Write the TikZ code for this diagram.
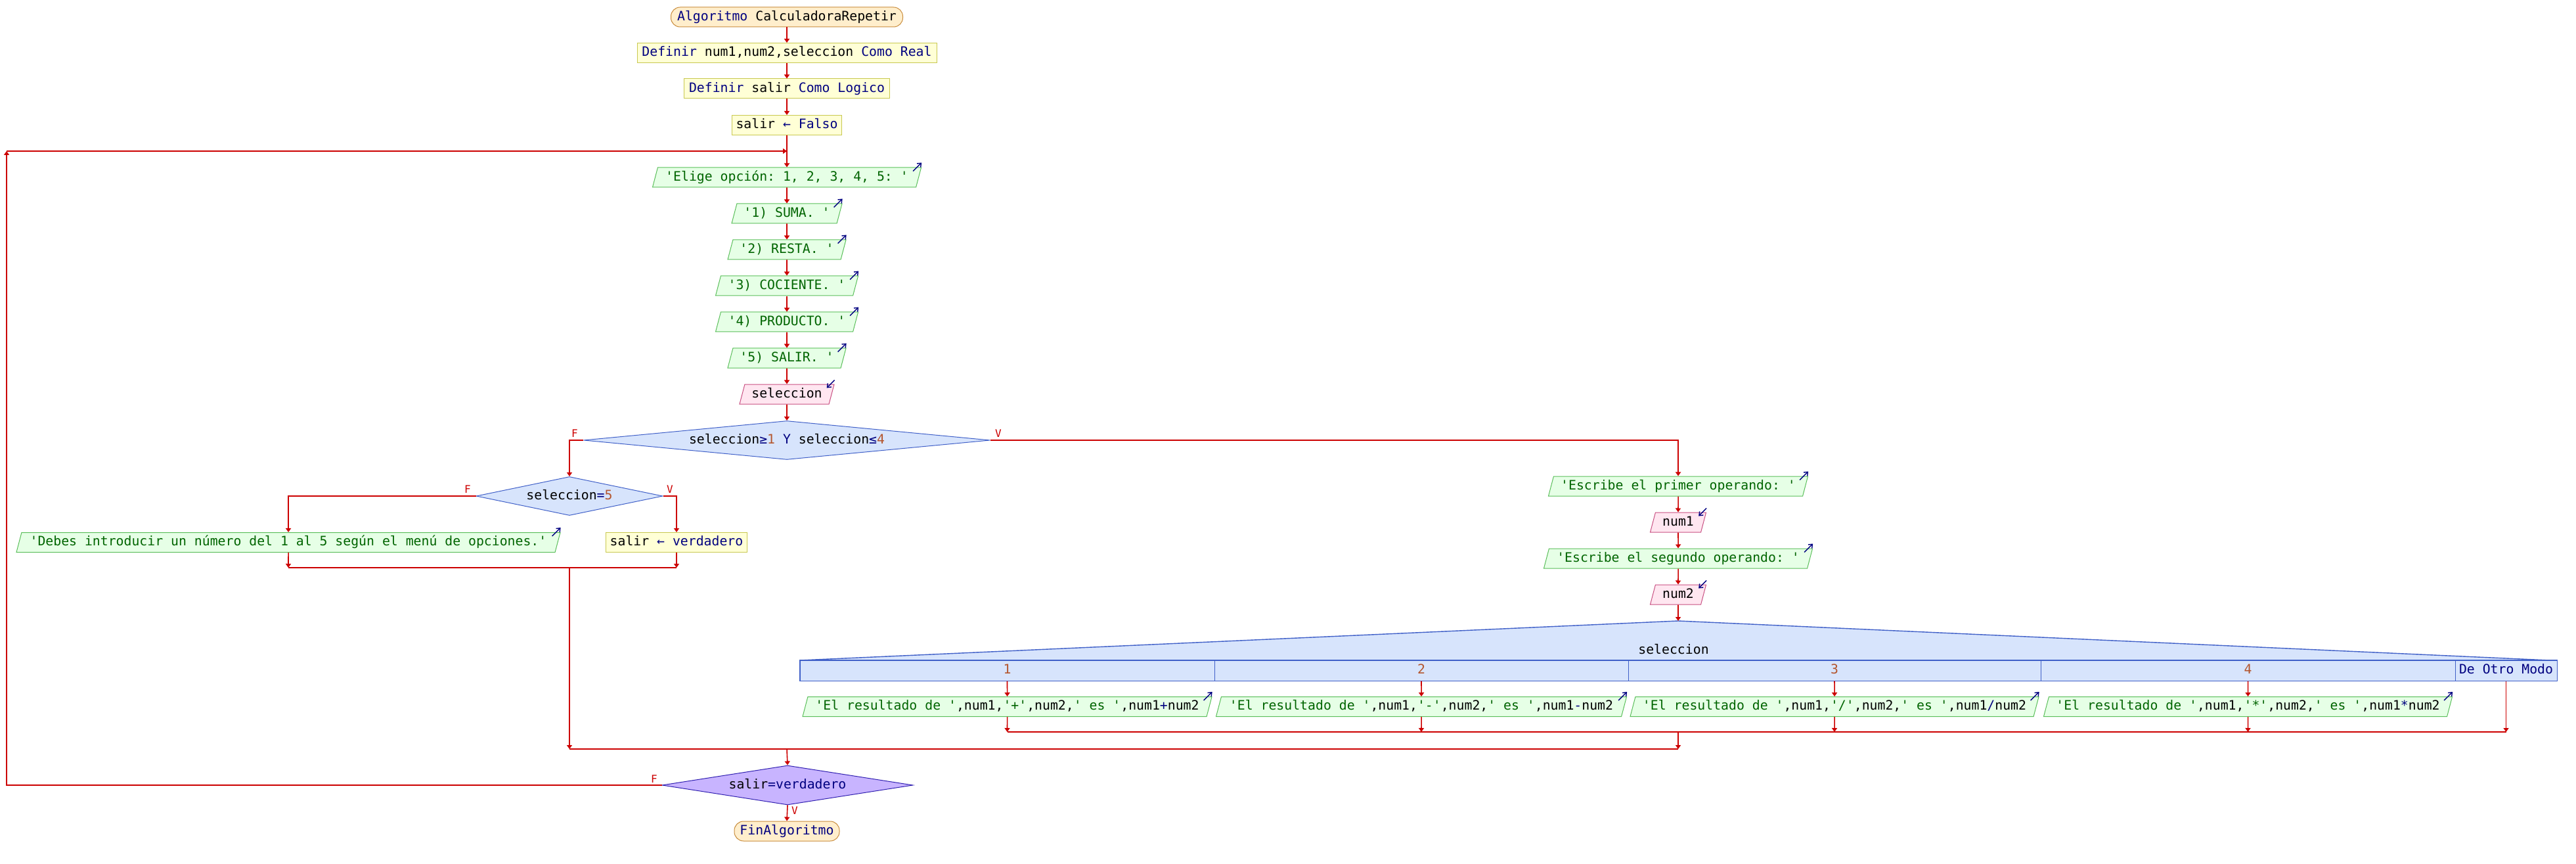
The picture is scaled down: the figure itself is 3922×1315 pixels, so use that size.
\documentclass[tikz,border=0pt]{standalone}
\usepackage{fontspec}
\setmonofont{DejaVu Sans Mono}
\usetikzlibrary{shapes.geometric,arrows.meta}
\definecolor{flowred}{RGB}{204,0,0}
\definecolor{kwblue}{RGB}{0,0,128}
\definecolor{strgreen}{RGB}{0,100,0}
\definecolor{numbrown}{RGB}{180,85,45}
\definecolor{termfill}{RGB}{255,238,204}
\definecolor{termdraw}{RGB}{200,140,60}
\definecolor{procfill}{RGB}{255,255,214}
\definecolor{procdraw}{RGB}{200,200,80}
\definecolor{outfill}{RGB}{230,255,230}
\definecolor{outdraw}{RGB}{90,190,90}
\definecolor{infill}{RGB}{255,230,240}
\definecolor{indraw}{RGB}{200,80,130}
\definecolor{decfill}{RGB}{215,228,252}
\definecolor{decdraw}{RGB}{64,96,200}
\definecolor{loopfill}{RGB}{200,180,255}
\definecolor{loopdraw}{RGB}{48,32,176}
\newcommand\kwd[1]{\textcolor{kwblue}{#1}}
\newcommand\cstr[1]{\textcolor{strgreen}{#1}}
\newcommand\nm[1]{\textcolor{numbrown}{#1}}
\newcommand\outicon[1]{\draw[icon] ([shift={(-13,6)}]#1.top right corner) -- ([shift={(0,-7)}]#1.top right corner);}
\newcommand\inicon[1]{\draw[icon] ([shift={(0,-6)}]#1.top right corner) -- ([shift={(-12,6)}]#1.top right corner);}
\tikzset{
  bw/.style={minimum width=#1*0.5pt},
  bh/.style={minimum height=#1*0.5pt},
  nbase/.style={inner sep=0pt, line width=0.5pt, text height=7.5pt, text depth=2.3pt},
  termbox/.style={nbase, draw=termdraw, fill=termfill, rounded corners=7pt, bh=30},
  procbox/.style={nbase, draw=procdraw, fill=procfill, bh=30},
  outbox/.style={nbase, trapezium, trapezium left angle=68, trapezium right angle=112,
    trapezium stretches body, draw=outdraw, fill=outfill, bh=30},
  inbox/.style={outbox, draw=indraw, fill=infill},
  decbox/.style={nbase, diamond, draw=decdraw, fill=decfill},
  segcell/.style={nbase, draw=decdraw, fill=decfill, bh=31},
  flow/.style={draw=flowred, line width=0.8pt, -{Triangle[width=4pt,length=3pt]}},
  jline/.style={draw=flowred, line width=0.9pt},
  lbl/.style={text=flowred, font=\ttfamily\fontsize{8pt}{9pt}\selectfont, inner sep=0pt},
  icon/.style={draw=kwblue, line width=0.7pt, -{Straight Barb[length=2.5pt,width=4pt]}}
}
\begin{document}
\begin{tikzpicture}[x=0.5pt,y=-0.5pt,font=\ttfamily\fontsize{9.9pt}{12pt}\selectfont]
\useasboundingbox (0,0) rectangle (3922,1315);

% main column
\node[termbox, bw=353] (start) at (1198,26) {\kwd{Algoritmo} CalculadoraRepetir};
\node[procbox, bw=456] (def1) at (1198,80.5) {\kwd{Definir} num1,num2,seleccion \kwd{Como Real}};
\node[procbox, bw=313] (def2) at (1198,135) {\kwd{Definir} salir \kwd{Como Logico}};
\node[procbox, bw=167] (asg1) at (1198,190.5) {salir \kwd{←} \kwd{Falso}};
\node[outbox, bw=409] (o1) at (1198,270) {\cstr{'Elige opción: 1, 2, 3, 4, 5: '}};
\node[outbox, bw=168] (o2) at (1198,325) {\cstr{'1) SUMA. '}};
\node[outbox, bw=180] (o3) at (1198,380) {\cstr{'2) RESTA. '}};
\node[outbox, bw=217] (o4) at (1198,435) {\cstr{'3) COCIENTE. '}};
\node[outbox, bw=217] (o5) at (1198,490) {\cstr{'4) PRODUCTO. '}};
\node[outbox, bw=180] (o6) at (1198,545) {\cstr{'5) SALIR. '}};
\node[inbox, bw=144] (in1) at (1198,600) {seleccion};
\node[decbox, aspect=10, bw=619, bh=59] (d1) at (1198,670) {seleccion\kwd{≥}\nm{1} \kwd{Y} seleccion\kwd{≤}\nm{4}};

% left branch
\node[decbox, aspect=4.8, bw=284, bh=59] (d2) at (867,755) {seleccion\kwd{=}\nm{5}};
\node[outbox, bw=828] (debes) at (439,825.5) {\cstr{'Debes introducir un número del 1 al 5 según el menú de opciones.'}};
\node[procbox, bw=215] (asg2) at (1030,825.5) {salir \kwd{←} \kwd{verdadero}};

% right branch
\node[outbox, bw=395] (e1) at (2555,740) {\cstr{'Escribe el primer operando: '}};
\node[inbox, bw=85] (n1) at (2555,795) {num1};
\node[outbox, bw=409] (e2) at (2555,850) {\cstr{'Escribe el segundo operando: '}};
\node[inbox, bw=85] (n2) at (2555,905) {num2};

% segun
\coordinate (segtop) at (2555,945);
\filldraw[fill=decfill, draw=decdraw, line width=0.7pt] (1218,1005) -- (segtop) -- (3882,1005) -- cycle;
\node[inner sep=0pt, text height=7.5pt, text depth=2.3pt] (segl) at (2548,990) {seleccion};
\node[segcell, bw=631] (c1) at (1533.5,1020.5) {\nm{1}};
\node[segcell, bw=630] (c2) at (2164,1020.5) {\nm{2}};
\node[segcell, bw=628] (c3) at (2793,1020.5) {\nm{3}};
\node[segcell, bw=631] (c4) at (3422.5,1020.5) {\nm{4}};
\node[segcell, bw=155] (c5) at (3815.5,1020.5) {\kwd{De Otro Modo}};
\draw[decdraw, line width=0.8pt] (c1.north west) rectangle (c5.south east);
\node[outbox, bw=623] (r1) at (1533.5,1075.5) {\cstr{'El resultado de '},num1,\cstr{'+'},num2,\cstr{' es '},num1\kwd{+}num2};
\node[outbox, bw=625] (r2) at (2164,1075.5) {\cstr{'El resultado de '},num1,\cstr{'-'},num2,\cstr{' es '},num1\kwd{-}num2};
\node[outbox, bw=622] (r3) at (2793,1075.5) {\cstr{'El resultado de '},num1,\cstr{'/'},num2,\cstr{' es '},num1\kwd{/}num2};
\node[outbox, bw=622] (r4) at (3422.5,1075.5) {\cstr{'El resultado de '},num1,\cstr{'*'},num2,\cstr{' es '},num1\kwd{*}num2};

% end
\node[decbox, aspect=6.4, bw=382, bh=60, fill=loopfill, draw=loopdraw] (d3) at (1199,1195) {salir\kwd{=}\kwd{verdadero}};
\node[termbox, bw=160] (fin) at (1198,1265) {\kwd{FinAlgoritmo}};

% icons
\outicon{o1}\outicon{o2}\outicon{o3}\outicon{o4}\outicon{o5}\outicon{o6}
\outicon{debes}\outicon{e1}\outicon{e2}
\outicon{r1}\outicon{r2}\outicon{r3}\outicon{r4}
\inicon{in1}\inicon{n1}\inicon{n2}

% coordinates
\coordinate (loopB) at (10,1195);
\coordinate (loopT) at (10,230);
\coordinate (loopR) at (1198,230);
\coordinate (j2L) at (439,864);
\coordinate (j2R) at (1030,864);
\coordinate (j2M) at (867,864);
\coordinate (j3a) at (1533.5,1114);
\coordinate (j3b) at (2164,1114);
\coordinate (j3c) at (2793,1114);
\coordinate (j3d) at (3422.5,1114);
\coordinate (j3e) at (3815.5,1114);
\coordinate (j3M) at (2555,1114);
\coordinate (mjL) at (867,1140);
\coordinate (mjR) at (2555,1140);
\coordinate (mjM) at (1198,1140);

% connectors main
\draw[flow] (start) -- (def1);
\draw[flow] (def1) -- (def2);
\draw[flow] (def2) -- (asg1);
\draw[flow] (asg1) -- (o1.north);
\draw[flow] (o1.south) -- (o2.north);
\draw[flow] (o2.south) -- (o3.north);
\draw[flow] (o3.south) -- (o4.north);
\draw[flow] (o4.south) -- (o5.north);
\draw[flow] (o5.south) -- (o6.north);
\draw[flow] (o6.south) -- (in1.north);
\draw[flow] (in1.south) -- (d1.north);

% branches
\draw[flow] (d1.west) -| (d2.north);
\draw[flow] (d1.east) -| (e1.north);
\draw[flow] (d2.west) -| (debes.north);
\draw[flow] (d2.east) -| (asg2.north);
\draw[flow] (debes.south) -- (j2L);
\draw[flow] (asg2.south) -- (j2R);
\draw[jline] (j2L) -- (j2R);
\draw[flow] (j2M) -- (mjL);

\draw[flow] (e1.south) -- (n1.north);
\draw[flow] (n1.south) -- (e2.north);
\draw[flow] (e2.south) -- (n2.north);
\draw[flow] (n2.south) -- (segtop);

\draw[flow] (c1.south) -- (r1.north);
\draw[flow] (c2.south) -- (r2.north);
\draw[flow] (c3.south) -- (r3.north);
\draw[flow] (c4.south) -- (r4.north);
\draw[flow] (r1.south) -- (j3a);
\draw[flow] (r2.south) -- (j3b);
\draw[flow] (r3.south) -- (j3c);
\draw[flow] (r4.south) -- (j3d);
\draw[flow] (c5.south) -- (j3e);
\draw[jline] (j3a) -- (j3e);
\draw[flow] (j3M) -- (mjR);

\draw[jline] (mjL) -- (mjR);
\draw[flow] (mjM) -- (d3.north);
\draw[flow] (d3.south) -- (fin.north);
\draw[flow] (d3.west) -- (loopB) -- (loopT);
\draw[flow] (loopT) -- (loopR);

% labels
\node[lbl] (lf1) at (875,660) {F};
\node[lbl] (lv1) at (1520,660) {V};
\node[lbl] (lf2) at (712,745) {F};
\node[lbl] (lv2) at (1020,745) {V};
\node[lbl] (lf3) at (996,1186) {F};
\node[lbl] (lv3) at (1210,1234) {V};
\end{tikzpicture}
\end{document}
